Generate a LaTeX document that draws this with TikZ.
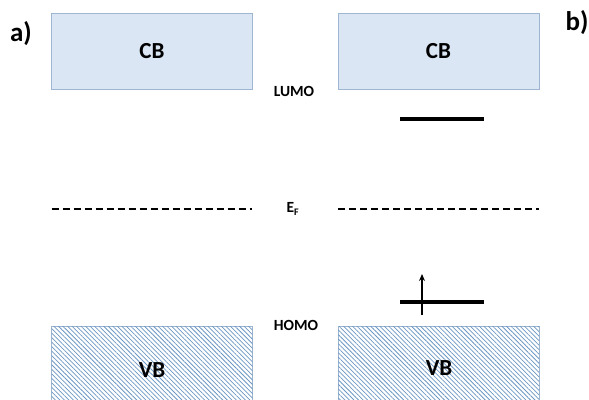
\documentclass[tikz,border=0pt]{standalone}
\usepackage{fontspec}
\setmainfont{Carlito}
\usetikzlibrary{patterns.meta,arrows.meta}
\definecolor{bandfill}{HTML}{DAE6F4}
\definecolor{bandedge}{HTML}{9FB6D3}
\definecolor{hatchblue}{HTML}{6E98C4}
\tikzset{
  band/.style={draw=bandedge, line width=0.9pt, minimum width=201pt, inner sep=0pt},
  bandtext/.style={font=\bfseries\fontsize{23}{23}\selectfont},
  cb/.style={band, bandtext, fill=bandfill, minimum height=76pt},
  vb/.style={band, fill=white, minimum height=74pt,
    postaction={pattern={Lines[angle=-45,distance=3.2pt,line width=0.75pt]}, pattern color=hatchblue}},
  lvl/.style={font=\bfseries\fontsize{15.5}{15.5}\selectfont},
  tag/.style={font=\bfseries\fontsize{27}{27}\selectfont},
  fermi/.style={line width=1.8pt, dash pattern=on 7pt off 4pt},
  state/.style={line width=3.4pt},
}
\begin{document}
\begin{tikzpicture}[x=1pt,y=-1pt]
\useasboundingbox (0,0) rectangle (589,399);
% conduction bands
\node[cb] (cbL) at (152,51) {CB};
\node[cb] (cbR) at (438.5,51) {CB};
% valence bands (hatched, running off the bottom)
\node[vb] (vbL) at (152,363) {};
\node[vb] (vbR) at (438.5,363) {};
\node[bandtext] (vbLt) at (152,370) {VB};
\node[bandtext] (vbRt) at (439,368) {VB};
% panel tags
\node[tag] (ta) at (21,34) {a)};
\node[tag] (tb) at (577,23) {b)};
% level labels
\node[lvl] (lumo) at (294,91) {LUMO};
\node[lvl] (homo) at (296,325) {HOMO};
\node[lvl] (ef) at (293,209) {E\textsubscript{\fontsize{10}{10}\selectfont F}};
% Fermi level
\coordinate (efL1) at (51.5,209);
\coordinate (efL2) at (252,209);
\coordinate (efR1) at (338,209);
\coordinate (efR2) at (539,209);
\draw[fermi] (efL1) -- (efL2);
\draw[fermi] (efR1) -- (efR2);
% molecular states
\coordinate (lu1) at (400,119);
\coordinate (lu2) at (484,119);
\coordinate (ho1) at (400,302);
\coordinate (ho2) at (484,302);
\draw[state] (lu1) -- (lu2);
\draw[state] (ho1) -- (ho2);
% electron spin in the HOMO
\coordinate (spin1) at (422,315);
\coordinate (spin2) at (422,274);
\draw[line width=2.2pt, -{Stealth[length=7pt,width=6pt]}] (spin1) -- (spin2);
\end{tikzpicture}
\end{document}
